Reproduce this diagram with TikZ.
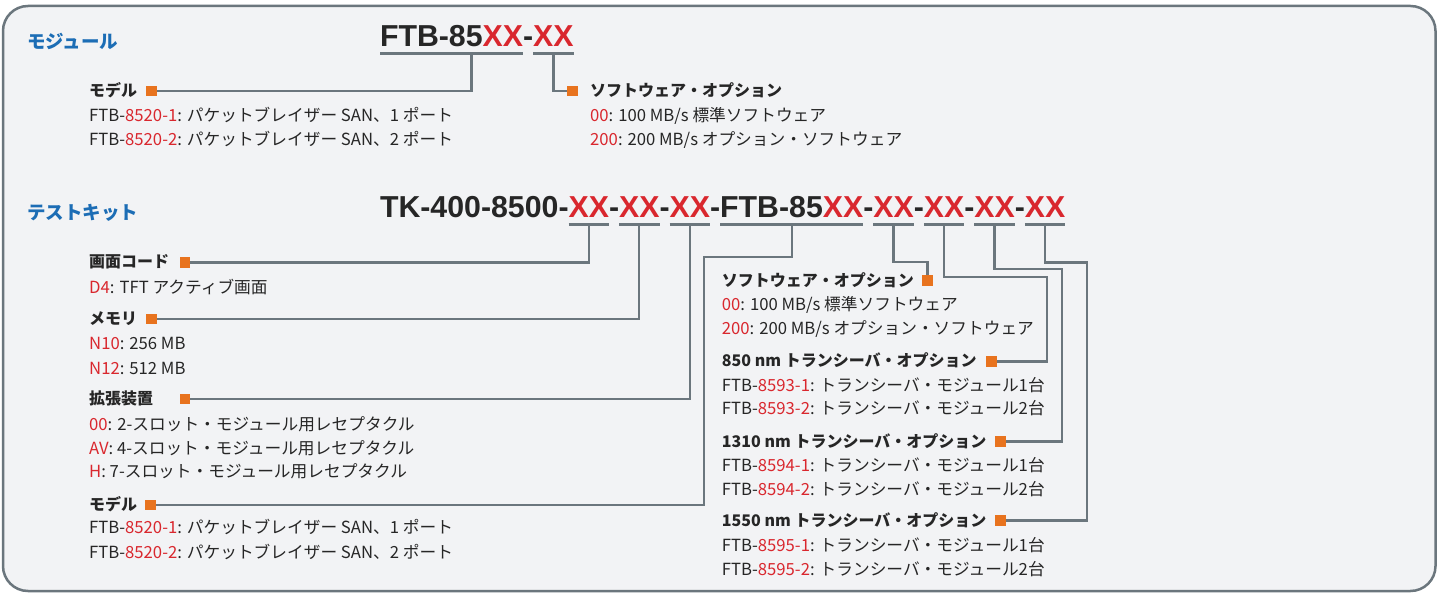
\documentclass[tikz,border=0pt]{standalone}
\usepackage{fontspec}
\setmainfont{Noto Sans CJK JP}
\newfontfamily\codefont{Liberation Sans}
\usetikzlibrary{calc}
\definecolor{bg}{HTML}{F2F3F5}
\definecolor{frame}{HTML}{6B767D}
\definecolor{lineg}{HTML}{6B767D}
\definecolor{orng}{HTML}{E8731E}
\definecolor{redc}{HTML}{D9272E}
\definecolor{txt}{HTML}{262626}
\definecolor{blu}{HTML}{1C6DB5}
\newcommand{\rd}[1]{\textcolor{redc}{#1}}
\tikzset{
 body/.style={anchor=base west, inner sep=0, font=\fontsize{16.7}{20}\selectfont, text=txt},
 head/.style={anchor=base west, inner sep=0, font=\fontsize{16}{19}\selectfont\bfseries, text=txt},
 title/.style={anchor=base west, inner sep=0, font=\fontsize{18.5}{22}\selectfont\bfseries, text=blu},
 code/.style={anchor=base west, inner sep=0, outer sep=0, font=\codefont\fontsize{30.3}{34}\selectfont\bfseries, text=txt},
 codex/.style={code, text=redc},
 uline/.style={draw=lineg, line width=2.8pt},
 conn/.style={draw=lineg, line width=2.3pt},
 sq/.style={fill=orng, minimum size=10.5pt, inner sep=0, outer sep=0},
}
\begin{document}
\begin{tikzpicture}[x=1pt,y=-1pt]
\useasboundingbox (0,0) rectangle (1437,593);
\fill[white] (0,0) rectangle (1437,593);
\draw[draw=frame, line width=2.5pt, fill=bg, rounded corners=25pt] (3,6) rectangle (1435.5,591);

% ---------- module section ----------
\node[title] (tmod) at (27,49) {モジュール};
\node[code] (t0) at (380,47) {FTB-85};
\node[codex] (t1) at (t0.base east) {XX};
\node[code] (t2) at (t1.base east) {-};
\node[codex] (t3) at (t2.base east) {XX};
\draw[uline] ([yshift=-6.5pt]t0.base west) -- ([yshift=-6.5pt]t1.base east);
\draw[uline] ([yshift=-6.5pt]t3.base west) -- ([yshift=-6.5pt]t3.base east);
\coordinate (tu1) at ($([yshift=-6.5pt]t0.base west)!0.64!([yshift=-6.5pt]t1.base east)$);
\coordinate (tu2) at ([yshift=-6.5pt]t3.base);

\node[head] (hm) at (89,97) {モデル};
\node[body] (hm1) at (89,122) {FTB-\rd{8520-1}: パケットブレイザー SAN、1 ポート};
\node[body] (hm2) at (89,145.5) {FTB-\rd{8520-2}: パケットブレイザー SAN、2 ポート};
\node[head] (hs) at (590,97) {ソフトウェア・オプション};
\node[body] (hs1) at (590,122) {\rd{00}: 100 MB/s 標準ソフトウェア};
\node[body] (hs2) at (590,146) {\rd{200}: 200 MB/s オプション・ソフトウェア};
\node[sq] (sqm) at (151.7,91) {};
\node[sq] (sqs) at (572.5,91) {};
\draw[conn] (tu1) |- (sqm);
\draw[conn] (tu2) |- (sqs);

% ---------- test kit section ----------
\node[title] (tkit) at (27,220) {テストキット};
\node[code] (k0) at (380,218) {TK-400-8500-};
\node[codex] (k1) at (k0.base east) {XX};
\node[code] (k2) at (k1.base east) {-};
\node[codex] (k3) at (k2.base east) {XX};
\node[code] (k4) at (k3.base east) {-};
\node[codex] (k5) at (k4.base east) {XX};
\node[code] (k6) at (k5.base east) {-};
\node[code] (k7) at (k6.base east) {FTB-85};
\node[codex] (k8) at (k7.base east) {XX};
\node[code] (k9) at (k8.base east) {-};
\node[codex] (k10) at (k9.base east) {XX};
\node[code] (k11) at (k10.base east) {-};
\node[codex] (k12) at (k11.base east) {XX};
\node[code] (k13) at (k12.base east) {-};
\node[codex] (k14) at (k13.base east) {XX};
\node[code] (k15) at (k14.base east) {-};
\node[codex] (k16) at (k15.base east) {XX};
\foreach \n in {k1,k3,k5,k10,k12,k14,k16}
  \draw[uline] ([yshift=-6.5pt]\n.base west) -- ([yshift=-6.5pt]\n.base east);
\draw[uline] ([yshift=-6.5pt]k7.base west) -- ([yshift=-6.5pt]k8.base east);
\coordinate (ku7) at ($([yshift=-6.5pt]k7.base west)!0.5!([yshift=-6.5pt]k8.base east)$);

% left column
\node[head] (hd) at (89,268) {画面コード};
\node[body] (hd1) at (89,294) {\rd{D4}: TFT アクティブ画面};
\node[head] (hme) at (89,324.5) {メモリ};
\node[body] (hme1) at (89,350) {\rd{N10}: 256 MB};
\node[body] (hme2) at (89,374) {\rd{N12}: 512 MB};
\node[head] (hx) at (89,404.5) {拡張装置};
\node[body] (hx1) at (89,430) {\rd{00}: 2-スロット・モジュール用レセプタクル};
\node[body] (hx2) at (89,454) {\rd{AV}: 4-スロット・モジュール用レセプタクル};
\node[body] (hx3) at (89,477.5) {\rd{H}: 7-スロット・モジュール用レセプタクル};
\node[head] (hmo) at (89,510.5) {モデル};
\node[body] (hmo1) at (89,533.5) {FTB-\rd{8520-1}: パケットブレイザー SAN、1 ポート};
\node[body] (hmo2) at (89,558) {FTB-\rd{8520-2}: パケットブレイザー SAN、2 ポート};
\node[sq] (sqd) at (185,262.5) {};
\node[sq] (sqme) at (151.5,319) {};
\node[sq] (sqx) at (185,399) {};
\node[sq] (sqmo) at (150.5,505) {};

% right column
\node[head] (hs2a) at (721.7,286.5) {ソフトウェア・オプション};
\node[body] (hs2b) at (721.7,311) {\rd{00}: 100 MB/s 標準ソフトウェア};
\node[body] (hs2c) at (721.7,335) {\rd{200}: 200 MB/s オプション・ソフトウェア};
\node[head] (h850) at (721.7,366.5) {850 nm トランシーバ・オプション};
\node[body] (h850a) at (721.7,391.5) {FTB-\rd{8593-1}: トランシーバ・モジュール1台};
\node[body] (h850b) at (721.7,414.5) {FTB-\rd{8593-2}: トランシーバ・モジュール2台};
\node[head] (h1310) at (721.7,447) {1310 nm トランシーバ・オプション};
\node[body] (h1310a) at (721.7,471.5) {FTB-\rd{8594-1}: トランシーバ・モジュール1台};
\node[body] (h1310b) at (721.7,495) {FTB-\rd{8594-2}: トランシーバ・モジュール2台};
\node[head] (h1550) at (721.7,526) {1550 nm トランシーバ・オプション};
\node[body] (h1550a) at (721.7,551.5) {FTB-\rd{8595-1}: トランシーバ・モジュール1台};
\node[body] (h1550b) at (721.7,575) {FTB-\rd{8595-2}: トランシーバ・モジュール2台};
\node[sq] (sqs2) at (927.5,280.5) {};
\node[sq] (sq850) at (991.5,361.5) {};
\node[sq] (sq1310) at (1000.5,441.5) {};
\node[sq] (sq1550) at (1000.5,520.5) {};

% bend coordinates
\coordinate (bmo) at (704,257);
\coordinate (bs2) at (0,262);
\coordinate (b850) at (1046.7,277);
\coordinate (b1310) at (1061.7,269.3);
\coordinate (b1550) at (1087,262.5);

% connectors
\draw[conn] ([yshift=-6.5pt]k1.base) |- (sqd);
\draw[conn] ([yshift=-6.5pt]k3.base) |- (sqme);
\draw[conn] ([yshift=-6.5pt]k5.base) |- (sqx);
\draw[conn] (ku7) |- (bmo) |- (sqmo);
\draw[conn] ([yshift=-6.5pt]k10.base) |- (bs2 -| sqs2) -- (sqs2);
\draw[conn] ([yshift=-6.5pt]k12.base) |- (b850) |- (sq850);
\draw[conn] ([yshift=-6.5pt]k14.base) |- (b1310) |- (sq1310);
\draw[conn] ([yshift=-6.5pt]k16.base) |- (b1550) |- (sq1550);
\end{tikzpicture}
\end{document}
